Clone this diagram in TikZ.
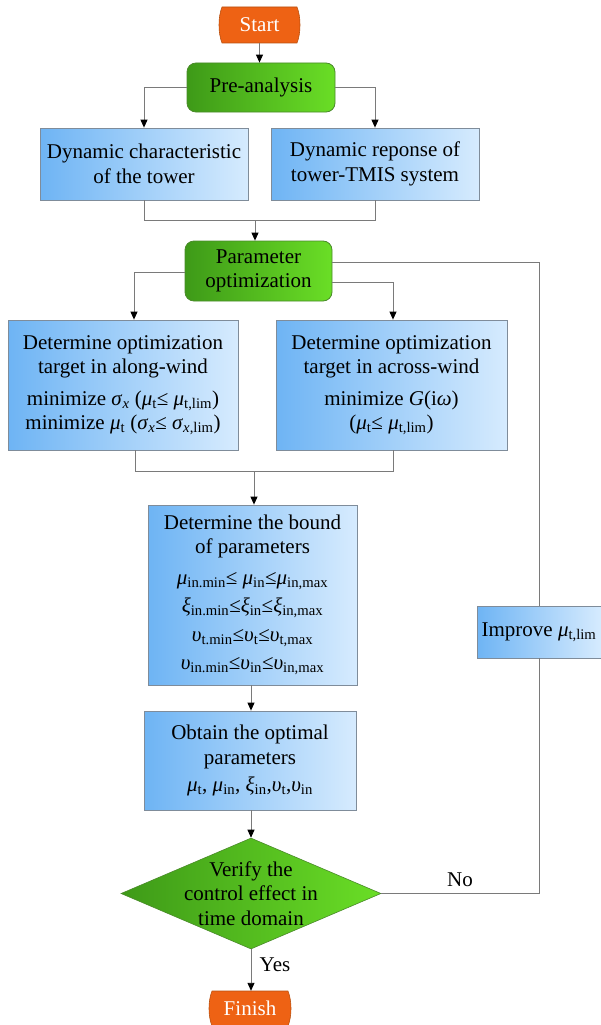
\documentclass[tikz,border=0pt]{standalone}
\usepackage{fontspec}
\setmainfont{Liberation Serif}
\usetikzlibrary{shapes.geometric,arrows.meta,calc}
\definecolor{blueL}{HTML}{6EB4F4}
\definecolor{blueR}{HTML}{D6EBFE}
\definecolor{boxborder}{HTML}{7F8C9A}
\definecolor{greenL}{HTML}{3E9A18}
\definecolor{greenR}{HTML}{6ADE26}
\definecolor{greenborder}{HTML}{4A8A2A}
\definecolor{orangeF}{HTML}{EE6214}
\definecolor{orangeB}{HTML}{B8500F}
\definecolor{linegray}{HTML}{7A7A7A}
\newcommand{\gr}[1]{\textit{#1}}
\newcommand{\sbs}[1]{\textsubscript{#1}}
\begin{document}
\begin{tikzpicture}[x=1pt,y=-1pt,
  font=\fontsize{21}{24.5}\selectfont,
  bluebox/.style={draw=boxborder, line width=0.8pt, left color=blueL, right color=blueR, align=center, inner sep=0pt},
  greenbox/.style={draw=greenborder, line width=0.8pt, rounded corners=9pt, left color=greenL, right color=greenR, align=center, inner sep=0pt},
  termtext/.style={text=white, inner sep=0pt},
  termshape/.style={fill=orangeF, draw=orangeB, line width=0.6pt},
  conn/.style={draw=linegray, line width=0.9pt},
  arr/.style={conn, -{Triangle[length=8pt,width=7pt,color=black]}},
  lbl/.style={inner sep=0pt}
]
\useasboundingbox (0,0) rectangle (600,1025);
% terminator shapes
\path[termshape] (222,7) -- (297,7) .. controls (301,17) and (301,33) .. (297,43) -- (222,43) .. controls (218,33) and (218,17) .. (222,7) -- cycle;
\node[termtext, minimum width=79pt, minimum height=36pt] (start) at (259.5,25) {Start};
\path[termshape] (212,991) -- (288,991) .. controls (292,1001) and (292,1016) .. (288,1026) -- (212,1026) .. controls (208,1016) and (208,1001) .. (212,991) -- cycle;
\node[termtext, minimum width=80pt, minimum height=35pt] (finish) at (250,1008.5) {Finish};

\node[greenbox, minimum width=148pt, minimum height=49pt] (pre) at (261,87.5) {Pre-analysis};
\node[bluebox, minimum width=208pt, minimum height=72pt] (dyn1) at (144,164) {Dynamic characteristic\\of the tower};
\node[bluebox, minimum width=208pt, minimum height=72pt] (dyn2) at (375,164) {Dynamic reponse of\\tower-TMIS system};
\node[greenbox, minimum width=147pt, minimum height=60pt] (param) at (258.5,271) {Parameter\\optimization};
\node[bluebox, minimum width=230pt, minimum height=130pt] (along) at (123,385)
  {Determine optimization\\target in along-wind\\[7pt]
   minimize \gr{σ}\sbs{\textit{x}} (\gr{μ}\sbs{t}≤ \gr{μ}\sbs{t,lim})\\
   minimize \gr{μ}\sbs{t} (\gr{σ}\sbs{\textit{x}}≤ \gr{σ}\sbs{\textit{x},lim})};
\node[bluebox, minimum width=231pt, minimum height=130pt] (across) at (391.5,385)
  {Determine optimization\\target in across-wind\\[7pt]
   minimize \gr{G}(i\gr{ω})\\
   (\gr{μ}\sbs{t}≤ \gr{μ}\sbs{t,lim})};
\node[bluebox, minimum width=209pt, minimum height=180pt] (bound) at (252.5,595)
  {Determine the bound\\of parameters\\[6pt]
   \gr{μ}\sbs{in.min}≤ \gr{μ}\sbs{in}≤\gr{μ}\sbs{in,max}\\[4pt]
   \gr{ξ}\sbs{in.min}≤\gr{ξ}\sbs{in}≤\gr{ξ}\sbs{in,max}\\[4pt]
   \gr{υ}\sbs{t.min}≤\gr{υ}\sbs{t}≤\gr{υ}\sbs{t,max}\\[4pt]
   \gr{υ}\sbs{in.min}≤\gr{υ}\sbs{in}≤\gr{υ}\sbs{in,max}};
\node[bluebox, minimum width=212pt, minimum height=99pt] (obtain) at (250,760.5)
  {Obtain the optimal\\parameters\\[3pt]
   \gr{μ}\sbs{t}, \gr{μ}\sbs{in}, \gr{ξ}\sbs{in},\gr{υ}\sbs{t},\gr{υ}\sbs{in}};
\node[bluebox, minimum width=124pt, minimum height=52pt] (improve) at (539,632) {Improve \gr{μ}\sbs{t,lim}};
\node[diamond, draw=greenborder, line width=0.6pt, left color=greenL, right color=greenR, minimum width=260pt, minimum height=111pt, inner sep=0pt] (dec) at (251,893.5) {};
\node[align=center, inner sep=0pt] (dectext) at (dec.center) {Verify the\\control effect in\\time domain};

% connectors
\draw[arr] (start.south) -- (start.south |- pre.north);
\draw[arr] (pre.west) -| (dyn1.north);
\draw[arr] (pre.east) -| (dyn2.north);
\coordinate (m1) at (255,220);
\draw[conn] (dyn1.south) -- (dyn1.south |- m1) -- (dyn2.south |- m1) -- (dyn2.south);
\draw[arr] (m1) -- (m1 |- param.north);
\draw[arr] ([yshift=-1pt]param.west) -| ([xshift=11pt]along.north);
\draw[arr] ([yshift=-11pt]param.east) -| ([xshift=1.5pt]across.north);
\draw[conn] ([yshift=9pt]param.east) -| (improve.north);
\coordinate (m2) at (254,471);
\draw[conn] ([xshift=12pt]along.south) -- ([xshift=12pt]along.south |- m2) -- ([xshift=1.5pt]across.south |- m2) -- ([xshift=1.5pt]across.south);
\draw[arr] (m2) -- (m2 |- bound.north);
\draw[arr] ([xshift=-1.5pt]bound.south) -- ([xshift=-1.5pt]bound.south |- obtain.north);
\draw[arr] (obtain.south -| dec.north) -- (dec.north);
\draw[arr] (dec.south) -- (finish.north -| dec.south);
\draw[conn] (dec.east) -| (improve.south);
\node[lbl] (no) at (460,880) {No};
\node[lbl] (yes) at (275,965) {Yes};
\end{tikzpicture}
\end{document}
